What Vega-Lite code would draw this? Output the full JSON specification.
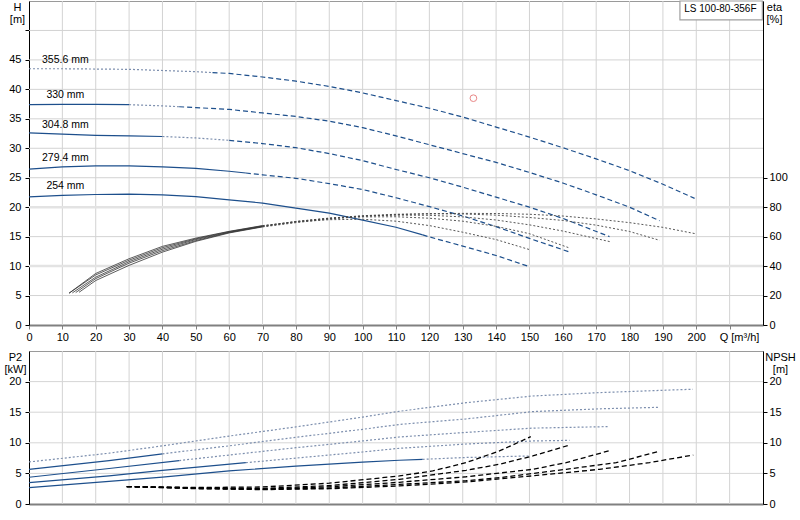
{
  "$schema": "https://vega.github.io/schema/vega-lite/v6.json",
  "padding": {"left": 3, "top": -1, "right": 0, "bottom": 0},
  "spacing": 26,
  "bounds": "flush",
  "config": {
    "font": "Liberation Sans",
    "view": {"stroke": "#9a9a9a"},
    "axis": {
      "labelFontSize": 11,
      "labelColor": "#000",
      "titleFontSize": 11,
      "titleFontWeight": "normal",
      "titleColor": "#000",
      "tickSize": 4,
      "grid": false,
      "labelFlush": false,
      "labelOverlap": false
    }
  },
  "datasets": {
    "qgrid": [
      {"Q": 10}, {"Q": 20}, {"Q": 30}, {"Q": 40}, {"Q": 50}, {"Q": 60}, {"Q": 70}, {"Q": 80}, {"Q": 90}, {"Q": 100}, {"Q": 110},
      {"Q": 120}, {"Q": 130}, {"Q": 140}, {"Q": 150}, {"Q": 160}, {"Q": 170}, {"Q": 180}, {"Q": 190}, {"Q": 200}, {"Q": 210}
    ],
    "hgrid": [
      {"H": 5}, {"H": 10}, {"H": 15}, {"H": 20}, {"H": 25}, {"H": 30}, {"H": 35}, {"H": 40}, {"H": 45}, {"H": 50}
    ],
    "pgrid": [
      {"P2": 5}, {"P2": 10}, {"P2": 15}, {"P2": 20}
    ],
    "head": [
      {"D": "355.6 mm", "seg": "dotted", "Q": 0, "H": 43.5},
      {"D": "355.6 mm", "seg": "dotted", "Q": 10, "H": 43.5},
      {"D": "355.6 mm", "seg": "dotted", "Q": 20, "H": 43.45},
      {"D": "355.6 mm", "seg": "dotted", "Q": 30, "H": 43.4},
      {"D": "355.6 mm", "seg": "dotted", "Q": 40, "H": 43.2},
      {"D": "355.6 mm", "seg": "dotted", "Q": 50, "H": 43.0},
      {"D": "355.6 mm", "seg": "dotted", "Q": 55, "H": 42.85},
      {"D": "355.6 mm", "seg": "dashed", "Q": 55, "H": 42.85},
      {"D": "355.6 mm", "seg": "dashed", "Q": 60, "H": 42.7},
      {"D": "355.6 mm", "seg": "dashed", "Q": 70, "H": 42.1},
      {"D": "355.6 mm", "seg": "dashed", "Q": 80, "H": 41.4},
      {"D": "355.6 mm", "seg": "dashed", "Q": 90, "H": 40.5},
      {"D": "355.6 mm", "seg": "dashed", "Q": 100, "H": 39.4},
      {"D": "355.6 mm", "seg": "dashed", "Q": 110, "H": 38.1},
      {"D": "355.6 mm", "seg": "dashed", "Q": 120, "H": 36.8},
      {"D": "355.6 mm", "seg": "dashed", "Q": 130, "H": 35.3},
      {"D": "355.6 mm", "seg": "dashed", "Q": 140, "H": 33.6},
      {"D": "355.6 mm", "seg": "dashed", "Q": 150, "H": 31.9},
      {"D": "355.6 mm", "seg": "dashed", "Q": 160, "H": 30.1},
      {"D": "355.6 mm", "seg": "dashed", "Q": 170, "H": 28.2},
      {"D": "355.6 mm", "seg": "dashed", "Q": 180, "H": 26.2},
      {"D": "355.6 mm", "seg": "dashed", "Q": 190, "H": 23.9},
      {"D": "355.6 mm", "seg": "dashed", "Q": 199.5, "H": 21.5},
      {"D": "330 mm", "seg": "solid", "Q": 0, "H": 37.4},
      {"D": "330 mm", "seg": "solid", "Q": 10, "H": 37.45},
      {"D": "330 mm", "seg": "solid", "Q": 20, "H": 37.45},
      {"D": "330 mm", "seg": "solid", "Q": 30, "H": 37.4},
      {"D": "330 mm", "seg": "dotted", "Q": 30, "H": 37.4},
      {"D": "330 mm", "seg": "dotted", "Q": 40, "H": 37.2},
      {"D": "330 mm", "seg": "dotted", "Q": 45, "H": 37.05},
      {"D": "330 mm", "seg": "dashed", "Q": 45, "H": 37.05},
      {"D": "330 mm", "seg": "dashed", "Q": 50, "H": 36.9},
      {"D": "330 mm", "seg": "dashed", "Q": 60, "H": 36.6},
      {"D": "330 mm", "seg": "dashed", "Q": 70, "H": 36.0},
      {"D": "330 mm", "seg": "dashed", "Q": 80, "H": 35.4},
      {"D": "330 mm", "seg": "dashed", "Q": 90, "H": 34.6},
      {"D": "330 mm", "seg": "dashed", "Q": 100, "H": 33.5},
      {"D": "330 mm", "seg": "dashed", "Q": 110, "H": 32.1},
      {"D": "330 mm", "seg": "dashed", "Q": 120, "H": 30.6},
      {"D": "330 mm", "seg": "dashed", "Q": 130, "H": 29.1},
      {"D": "330 mm", "seg": "dashed", "Q": 140, "H": 27.6},
      {"D": "330 mm", "seg": "dashed", "Q": 150, "H": 25.9},
      {"D": "330 mm", "seg": "dashed", "Q": 160, "H": 24.1},
      {"D": "330 mm", "seg": "dashed", "Q": 170, "H": 22.1},
      {"D": "330 mm", "seg": "dashed", "Q": 180, "H": 20.0},
      {"D": "330 mm", "seg": "dashed", "Q": 189, "H": 17.7},
      {"D": "304.8 mm", "seg": "solid", "Q": 0, "H": 32.6},
      {"D": "304.8 mm", "seg": "solid", "Q": 10, "H": 32.4},
      {"D": "304.8 mm", "seg": "solid", "Q": 20, "H": 32.2},
      {"D": "304.8 mm", "seg": "solid", "Q": 30, "H": 32.1},
      {"D": "304.8 mm", "seg": "solid", "Q": 40, "H": 32.0},
      {"D": "304.8 mm", "seg": "dotted", "Q": 40, "H": 32.0},
      {"D": "304.8 mm", "seg": "dotted", "Q": 50, "H": 31.75},
      {"D": "304.8 mm", "seg": "dotted", "Q": 60, "H": 31.35},
      {"D": "304.8 mm", "seg": "dashed", "Q": 60, "H": 31.35},
      {"D": "304.8 mm", "seg": "dashed", "Q": 70, "H": 30.8},
      {"D": "304.8 mm", "seg": "dashed", "Q": 80, "H": 30.1},
      {"D": "304.8 mm", "seg": "dashed", "Q": 90, "H": 29.1},
      {"D": "304.8 mm", "seg": "dashed", "Q": 100, "H": 27.9},
      {"D": "304.8 mm", "seg": "dashed", "Q": 110, "H": 26.4},
      {"D": "304.8 mm", "seg": "dashed", "Q": 120, "H": 25.0},
      {"D": "304.8 mm", "seg": "dashed", "Q": 130, "H": 23.4},
      {"D": "304.8 mm", "seg": "dashed", "Q": 140, "H": 21.7},
      {"D": "304.8 mm", "seg": "dashed", "Q": 150, "H": 20.0},
      {"D": "304.8 mm", "seg": "dashed", "Q": 160, "H": 18.1},
      {"D": "304.8 mm", "seg": "dashed", "Q": 174, "H": 15.0},
      {"D": "279.4 mm", "seg": "solid", "Q": 0, "H": 26.45},
      {"D": "279.4 mm", "seg": "solid", "Q": 10, "H": 26.85},
      {"D": "279.4 mm", "seg": "solid", "Q": 20, "H": 27.0},
      {"D": "279.4 mm", "seg": "solid", "Q": 30, "H": 27.0},
      {"D": "279.4 mm", "seg": "solid", "Q": 40, "H": 26.85},
      {"D": "279.4 mm", "seg": "solid", "Q": 50, "H": 26.6},
      {"D": "279.4 mm", "seg": "solid", "Q": 60, "H": 26.1},
      {"D": "279.4 mm", "seg": "solid", "Q": 65, "H": 25.8},
      {"D": "279.4 mm", "seg": "dashed", "Q": 65, "H": 25.8},
      {"D": "279.4 mm", "seg": "dashed", "Q": 70, "H": 25.5},
      {"D": "279.4 mm", "seg": "dashed", "Q": 80, "H": 24.9},
      {"D": "279.4 mm", "seg": "dashed", "Q": 90, "H": 24.0},
      {"D": "279.4 mm", "seg": "dashed", "Q": 100, "H": 23.0},
      {"D": "279.4 mm", "seg": "dashed", "Q": 110, "H": 21.6},
      {"D": "279.4 mm", "seg": "dashed", "Q": 120, "H": 20.1},
      {"D": "279.4 mm", "seg": "dashed", "Q": 130, "H": 18.5},
      {"D": "279.4 mm", "seg": "dashed", "Q": 140, "H": 16.7},
      {"D": "279.4 mm", "seg": "dashed", "Q": 150, "H": 14.7},
      {"D": "279.4 mm", "seg": "dashed", "Q": 162, "H": 12.4},
      {"D": "254 mm", "seg": "solid", "Q": 0, "H": 21.75},
      {"D": "254 mm", "seg": "solid", "Q": 10, "H": 22.0},
      {"D": "254 mm", "seg": "solid", "Q": 20, "H": 22.15},
      {"D": "254 mm", "seg": "solid", "Q": 30, "H": 22.2},
      {"D": "254 mm", "seg": "solid", "Q": 40, "H": 22.1},
      {"D": "254 mm", "seg": "solid", "Q": 50, "H": 21.8},
      {"D": "254 mm", "seg": "solid", "Q": 60, "H": 21.25},
      {"D": "254 mm", "seg": "solid", "Q": 70, "H": 20.7},
      {"D": "254 mm", "seg": "solid", "Q": 80, "H": 19.85},
      {"D": "254 mm", "seg": "solid", "Q": 90, "H": 19.0},
      {"D": "254 mm", "seg": "solid", "Q": 100, "H": 17.8},
      {"D": "254 mm", "seg": "solid", "Q": 110, "H": 16.6},
      {"D": "254 mm", "seg": "solid", "Q": 118, "H": 15.3},
      {"D": "254 mm", "seg": "dashed", "Q": 118, "H": 15.3},
      {"D": "254 mm", "seg": "dashed", "Q": 120, "H": 14.95},
      {"D": "254 mm", "seg": "dashed", "Q": 130, "H": 13.4},
      {"D": "254 mm", "seg": "dashed", "Q": 140, "H": 11.8},
      {"D": "254 mm", "seg": "dashed", "Q": 150, "H": 9.9}
    ],
    "eta": [
      {"D": "254 mm", "Q": 12, "eta": 21.6}, {"D": "254 mm", "Q": 20, "eta": 35}, {"D": "254 mm", "Q": 30, "eta": 45},
      {"D": "254 mm", "Q": 40, "eta": 53.4}, {"D": "254 mm", "Q": 50, "eta": 59}, {"D": "254 mm", "Q": 60, "eta": 63.6},
      {"D": "254 mm", "Q": 70, "eta": 67.5}, {"D": "254 mm", "Q": 80, "eta": 70}, {"D": "254 mm", "Q": 90, "eta": 71.5},
      {"D": "254 mm", "Q": 100, "eta": 71.8}, {"D": "254 mm", "Q": 110, "eta": 70.5}, {"D": "254 mm", "Q": 120, "eta": 67.5},
      {"D": "254 mm", "Q": 130, "eta": 63}, {"D": "254 mm", "Q": 140, "eta": 58}, {"D": "254 mm", "Q": 150, "eta": 51.2},
      {"D": "279.4 mm", "Q": 12, "eta": 21.6}, {"D": "279.4 mm", "Q": 20, "eta": 34}, {"D": "279.4 mm", "Q": 30, "eta": 44},
      {"D": "279.4 mm", "Q": 40, "eta": 52.5}, {"D": "279.4 mm", "Q": 50, "eta": 58.5}, {"D": "279.4 mm", "Q": 60, "eta": 63.4},
      {"D": "279.4 mm", "Q": 70, "eta": 67.3}, {"D": "279.4 mm", "Q": 80, "eta": 70.3}, {"D": "279.4 mm", "Q": 90, "eta": 72.3},
      {"D": "279.4 mm", "Q": 100, "eta": 73.4}, {"D": "279.4 mm", "Q": 110, "eta": 73.5}, {"D": "279.4 mm", "Q": 120, "eta": 72.5},
      {"D": "279.4 mm", "Q": 130, "eta": 70.5}, {"D": "279.4 mm", "Q": 140, "eta": 67}, {"D": "279.4 mm", "Q": 150, "eta": 62},
      {"D": "279.4 mm", "Q": 162, "eta": 52.3},
      {"D": "304.8 mm", "Q": 13, "eta": 21.8}, {"D": "304.8 mm", "Q": 20, "eta": 32.5}, {"D": "304.8 mm", "Q": 30, "eta": 43},
      {"D": "304.8 mm", "Q": 40, "eta": 51.5}, {"D": "304.8 mm", "Q": 50, "eta": 58}, {"D": "304.8 mm", "Q": 60, "eta": 63},
      {"D": "304.8 mm", "Q": 70, "eta": 67}, {"D": "304.8 mm", "Q": 80, "eta": 70.3}, {"D": "304.8 mm", "Q": 90, "eta": 72.6},
      {"D": "304.8 mm", "Q": 100, "eta": 74}, {"D": "304.8 mm", "Q": 110, "eta": 74.6}, {"D": "304.8 mm", "Q": 120, "eta": 74.5},
      {"D": "304.8 mm", "Q": 130, "eta": 73.4}, {"D": "304.8 mm", "Q": 140, "eta": 71.3}, {"D": "304.8 mm", "Q": 150, "eta": 68},
      {"D": "304.8 mm", "Q": 160, "eta": 63.8}, {"D": "304.8 mm", "Q": 174.5, "eta": 56.4},
      {"D": "330 mm", "Q": 14, "eta": 22}, {"D": "330 mm", "Q": 20, "eta": 31.5}, {"D": "330 mm", "Q": 30, "eta": 42},
      {"D": "330 mm", "Q": 40, "eta": 50.5}, {"D": "330 mm", "Q": 50, "eta": 57.3}, {"D": "330 mm", "Q": 60, "eta": 62.8},
      {"D": "330 mm", "Q": 70, "eta": 66.8}, {"D": "330 mm", "Q": 80, "eta": 70}, {"D": "330 mm", "Q": 90, "eta": 72.5},
      {"D": "330 mm", "Q": 100, "eta": 74.2}, {"D": "330 mm", "Q": 110, "eta": 75.2}, {"D": "330 mm", "Q": 120, "eta": 75.6},
      {"D": "330 mm", "Q": 130, "eta": 75.4}, {"D": "330 mm", "Q": 140, "eta": 74.6}, {"D": "330 mm", "Q": 150, "eta": 73},
      {"D": "330 mm", "Q": 160, "eta": 71}, {"D": "330 mm", "Q": 170, "eta": 67.8}, {"D": "330 mm", "Q": 180, "eta": 63.5},
      {"D": "330 mm", "Q": 189, "eta": 57.5},
      {"D": "355.6 mm", "Q": 15, "eta": 22.2}, {"D": "355.6 mm", "Q": 20, "eta": 30.2}, {"D": "355.6 mm", "Q": 30, "eta": 40.5},
      {"D": "355.6 mm", "Q": 40, "eta": 49.5}, {"D": "355.6 mm", "Q": 50, "eta": 56.8}, {"D": "355.6 mm", "Q": 60, "eta": 62.5},
      {"D": "355.6 mm", "Q": 70, "eta": 66.6}, {"D": "355.6 mm", "Q": 80, "eta": 69.5}, {"D": "355.6 mm", "Q": 90, "eta": 72},
      {"D": "355.6 mm", "Q": 100, "eta": 73.8}, {"D": "355.6 mm", "Q": 110, "eta": 74.9}, {"D": "355.6 mm", "Q": 120, "eta": 75.5},
      {"D": "355.6 mm", "Q": 130, "eta": 75.8}, {"D": "355.6 mm", "Q": 140, "eta": 75.7}, {"D": "355.6 mm", "Q": 150, "eta": 75.2},
      {"D": "355.6 mm", "Q": 160, "eta": 74}, {"D": "355.6 mm", "Q": 170, "eta": 72}, {"D": "355.6 mm", "Q": 180, "eta": 69.5},
      {"D": "355.6 mm", "Q": 190, "eta": 66.3}, {"D": "355.6 mm", "Q": 199.5, "eta": 62.1}
    ],
    "p2": [
      {"D": "355.6 mm", "seg": "dotted", "Q": 0, "P2": 6.87}, {"D": "355.6 mm", "seg": "dotted", "Q": 24, "P2": 8.3},
      {"D": "355.6 mm", "seg": "dotted", "Q": 40, "P2": 9.5}, {"D": "355.6 mm", "seg": "dotted", "Q": 60, "P2": 11.1},
      {"D": "355.6 mm", "seg": "dotted", "Q": 80, "P2": 12.6}, {"D": "355.6 mm", "seg": "dotted", "Q": 100, "P2": 14.2},
      {"D": "355.6 mm", "seg": "dotted", "Q": 111, "P2": 15.15}, {"D": "355.6 mm", "seg": "dotted", "Q": 131, "P2": 16.55},
      {"D": "355.6 mm", "seg": "dotted", "Q": 151, "P2": 17.65}, {"D": "355.6 mm", "seg": "dotted", "Q": 171, "P2": 18.2},
      {"D": "355.6 mm", "seg": "dotted", "Q": 191, "P2": 18.6}, {"D": "355.6 mm", "seg": "dotted", "Q": 199, "P2": 18.75},
      {"D": "330 mm", "seg": "solid", "Q": 0, "P2": 5.67}, {"D": "330 mm", "seg": "solid", "Q": 24, "P2": 7.1},
      {"D": "330 mm", "seg": "solid", "Q": 40, "P2": 8.2}, {"D": "330 mm", "seg": "dotted", "Q": 40, "P2": 8.2},
      {"D": "330 mm", "seg": "dotted", "Q": 60, "P2": 9.5}, {"D": "330 mm", "seg": "dotted", "Q": 80, "P2": 10.9},
      {"D": "330 mm", "seg": "dotted", "Q": 100, "P2": 12.2}, {"D": "330 mm", "seg": "dotted", "Q": 111, "P2": 13.0},
      {"D": "330 mm", "seg": "dotted", "Q": 131, "P2": 13.9}, {"D": "330 mm", "seg": "dotted", "Q": 151, "P2": 15.1},
      {"D": "330 mm", "seg": "dotted", "Q": 171, "P2": 15.55}, {"D": "330 mm", "seg": "dotted", "Q": 189, "P2": 15.8},
      {"D": "304.8 mm", "seg": "solid", "Q": 0, "P2": 4.37}, {"D": "304.8 mm", "seg": "solid", "Q": 24, "P2": 5.8},
      {"D": "304.8 mm", "seg": "solid", "Q": 45, "P2": 7.1}, {"D": "304.8 mm", "seg": "dotted", "Q": 45, "P2": 7.1},
      {"D": "304.8 mm", "seg": "dotted", "Q": 60, "P2": 8.0}, {"D": "304.8 mm", "seg": "dotted", "Q": 80, "P2": 9.2},
      {"D": "304.8 mm", "seg": "dotted", "Q": 100, "P2": 10.3}, {"D": "304.8 mm", "seg": "dotted", "Q": 111, "P2": 10.95},
      {"D": "304.8 mm", "seg": "dotted", "Q": 131, "P2": 11.7}, {"D": "304.8 mm", "seg": "dotted", "Q": 151, "P2": 12.4},
      {"D": "304.8 mm", "seg": "dotted", "Q": 174, "P2": 12.65},
      {"D": "279.4 mm", "seg": "solid", "Q": 0, "P2": 3.48}, {"D": "279.4 mm", "seg": "solid", "Q": 24, "P2": 4.6},
      {"D": "279.4 mm", "seg": "solid", "Q": 40, "P2": 5.5}, {"D": "279.4 mm", "seg": "solid", "Q": 65, "P2": 6.75},
      {"D": "279.4 mm", "seg": "dotted", "Q": 65, "P2": 6.75}, {"D": "279.4 mm", "seg": "dotted", "Q": 80, "P2": 7.5},
      {"D": "279.4 mm", "seg": "dotted", "Q": 100, "P2": 8.5}, {"D": "279.4 mm", "seg": "dotted", "Q": 111, "P2": 9.1},
      {"D": "279.4 mm", "seg": "dotted", "Q": 131, "P2": 9.8}, {"D": "279.4 mm", "seg": "dotted", "Q": 151, "P2": 10.3},
      {"D": "279.4 mm", "seg": "dotted", "Q": 162, "P2": 10.4},
      {"D": "254 mm", "seg": "solid", "Q": 0, "P2": 2.67}, {"D": "254 mm", "seg": "solid", "Q": 24, "P2": 3.7},
      {"D": "254 mm", "seg": "solid", "Q": 40, "P2": 4.4}, {"D": "254 mm", "seg": "solid", "Q": 60, "P2": 5.4},
      {"D": "254 mm", "seg": "solid", "Q": 80, "P2": 6.2}, {"D": "254 mm", "seg": "solid", "Q": 100, "P2": 6.85},
      {"D": "254 mm", "seg": "solid", "Q": 111, "P2": 7.15}, {"D": "254 mm", "seg": "solid", "Q": 118, "P2": 7.3},
      {"D": "254 mm", "seg": "dotted", "Q": 118, "P2": 7.3}, {"D": "254 mm", "seg": "dotted", "Q": 131, "P2": 7.6},
      {"D": "254 mm", "seg": "dotted", "Q": 150, "P2": 7.85}
    ],
    "npsh": [
      {"D": "254 mm", "Q": 29.3, "NPSH": 2.85}, {"D": "254 mm", "Q": 50, "NPSH": 2.7}, {"D": "254 mm", "Q": 70, "NPSH": 2.78},
      {"D": "254 mm", "Q": 90, "NPSH": 3.4}, {"D": "254 mm", "Q": 111, "NPSH": 4.58}, {"D": "254 mm", "Q": 121, "NPSH": 5.4},
      {"D": "254 mm", "Q": 131, "NPSH": 6.76}, {"D": "254 mm", "Q": 141, "NPSH": 8.67}, {"D": "254 mm", "Q": 150.4, "NPSH": 11.0},
      {"D": "279.4 mm", "Q": 29.3, "NPSH": 2.85}, {"D": "279.4 mm", "Q": 50, "NPSH": 2.65}, {"D": "279.4 mm", "Q": 70, "NPSH": 2.55},
      {"D": "279.4 mm", "Q": 90, "NPSH": 3.0}, {"D": "279.4 mm", "Q": 111, "NPSH": 4.03}, {"D": "279.4 mm", "Q": 131, "NPSH": 5.5},
      {"D": "279.4 mm", "Q": 141, "NPSH": 6.5}, {"D": "279.4 mm", "Q": 151, "NPSH": 7.85}, {"D": "279.4 mm", "Q": 161.8, "NPSH": 9.6},
      {"D": "304.8 mm", "Q": 29.3, "NPSH": 2.85}, {"D": "304.8 mm", "Q": 50, "NPSH": 2.6}, {"D": "304.8 mm", "Q": 70, "NPSH": 2.45},
      {"D": "304.8 mm", "Q": 90, "NPSH": 2.8}, {"D": "304.8 mm", "Q": 111, "NPSH": 3.55}, {"D": "304.8 mm", "Q": 131, "NPSH": 4.45},
      {"D": "304.8 mm", "Q": 151, "NPSH": 5.67}, {"D": "304.8 mm", "Q": 161, "NPSH": 6.76}, {"D": "304.8 mm", "Q": 174.4, "NPSH": 8.78},
      {"D": "330 mm", "Q": 29.3, "NPSH": 2.85}, {"D": "330 mm", "Q": 50, "NPSH": 2.55}, {"D": "330 mm", "Q": 70, "NPSH": 2.4},
      {"D": "330 mm", "Q": 90, "NPSH": 2.6}, {"D": "330 mm", "Q": 111, "NPSH": 3.2}, {"D": "330 mm", "Q": 131, "NPSH": 3.8},
      {"D": "330 mm", "Q": 141, "NPSH": 4.3}, {"D": "330 mm", "Q": 161, "NPSH": 5.67}, {"D": "330 mm", "Q": 176, "NPSH": 6.76},
      {"D": "330 mm", "Q": 188.6, "NPSH": 8.56},
      {"D": "355.6 mm", "Q": 29.3, "NPSH": 2.85}, {"D": "355.6 mm", "Q": 50, "NPSH": 2.5}, {"D": "355.6 mm", "Q": 70, "NPSH": 2.35},
      {"D": "355.6 mm", "Q": 90, "NPSH": 2.5}, {"D": "355.6 mm", "Q": 111, "NPSH": 2.95}, {"D": "355.6 mm", "Q": 131, "NPSH": 3.6},
      {"D": "355.6 mm", "Q": 151, "NPSH": 4.6}, {"D": "355.6 mm", "Q": 171, "NPSH": 5.67}, {"D": "355.6 mm", "Q": 186, "NPSH": 6.76},
      {"D": "355.6 mm", "Q": 199.1, "NPSH": 8.0}
    ],
    "duty": [{"Q": 133.2, "H": 38.5}]
  },
  "vconcat": [
    {
      "width": 734,
      "height": 324,
      "resolve": {"scale": {"y": "independent"}},
      "layer": [
        {
          "data": {"name": "qgrid"},
          "mark": {"type": "rule", "color": "#d3d3d3", "strokeWidth": 1},
          "encoding": {
            "x": {
              "field": "Q", "type": "quantitative",
              "scale": {"domain": [0, 220], "nice": false},
              "axis": {
                "values": [0, 10, 20, 30, 40, 50, 60, 70, 80, 90, 100, 110, 120, 130, 140, 150, 160, 170, 180, 190, 200, 210],
                "labelExpr": "datum.value > 200 ? '' : datum.label",
                "labelOverlap": false,
                "title": "Q [m³/h]",
                "titleX": 710, "titleY": 6, "titleBaseline": "top", "titleAlign": "center",
                "domainColor": "#808080", "domainWidth": 2, "tickColor": "#808080", "labelPadding": 2, "grid": false
              }
            }
          }
        },
        {
          "data": {"name": "hgrid"},
          "mark": {"type": "rule"},
          "encoding": {
            "y": {
              "field": "H", "type": "quantitative",
              "scale": {"domain": [0, 55], "nice": false},
              "axis": {
                "orient": "left",
                "values": [0, 5, 10, 15, 20, 25, 30, 35, 40, 45, 50],
                "labelExpr": "datum.value > 45 ? '' : datum.label",
                "title": ["H", "[m]"],
                "titleAngle": 0, "titleX": -12, "titleY": 0, "titleBaseline": "top", "titleAlign": "center", "titleLineHeight": 12,
                "domainColor": "#000", "tickColor": "#000", "labelPadding": 4, "grid": false
              }
            },
            "strokeWidth": {"condition": {"test": "datum.H == 10 || datum.H == 20", "value": 2.5}, "value": 1},
            "color": {"condition": {"test": "datum.H == 10 || datum.H == 20", "value": "#e3e3e3"}, "value": "#d3d3d3"}
          }
        },
        {
          "data": {"name": "head"},
          "transform": [{"filter": "datum.seg == 'solid'"}],
          "mark": {"type": "line", "color": "#1d4f8c", "strokeWidth": 1.2},
          "encoding": {
            "x": {
              "field": "Q", "type": "quantitative",
              "scale": {"domain": [0, 220], "nice": false},
              "axis": {
                "values": [0, 10, 20, 30, 40, 50, 60, 70, 80, 90, 100, 110, 120, 130, 140, 150, 160, 170, 180, 190, 200, 210],
                "labelExpr": "datum.value > 200 ? '' : datum.label",
                "labelOverlap": false,
                "title": "Q [m³/h]",
                "titleX": 710, "titleY": 6, "titleBaseline": "top", "titleAlign": "center",
                "domainColor": "#808080", "domainWidth": 2, "tickColor": "#808080", "labelPadding": 2, "grid": false
              }
            },
            "y": {"field": "H", "type": "quantitative", "scale": {"domain": [0, 55], "nice": false}, "axis": null},
            "detail": {"field": "D"}
          }
        },
        {
          "data": {"name": "head"},
          "transform": [{"filter": "datum.seg == 'dotted'"}],
          "mark": {"type": "line", "color": "#7d8fae", "strokeWidth": 1.2, "strokeDash": [2, 2]},
          "encoding": {
            "x": {
              "field": "Q", "type": "quantitative",
              "scale": {"domain": [0, 220], "nice": false},
              "axis": {
                "values": [0, 10, 20, 30, 40, 50, 60, 70, 80, 90, 100, 110, 120, 130, 140, 150, 160, 170, 180, 190, 200, 210],
                "labelExpr": "datum.value > 200 ? '' : datum.label",
                "labelOverlap": false,
                "title": "Q [m³/h]",
                "titleX": 710, "titleY": 6, "titleBaseline": "top", "titleAlign": "center",
                "domainColor": "#808080", "domainWidth": 2, "tickColor": "#808080", "labelPadding": 2, "grid": false
              }
            },
            "y": {"field": "H", "type": "quantitative", "scale": {"domain": [0, 55], "nice": false}, "axis": null},
            "detail": {"field": "D"}
          }
        },
        {
          "data": {"name": "head"},
          "transform": [{"filter": "datum.seg == 'dashed'"}],
          "mark": {"type": "line", "color": "#1d4f8c", "strokeWidth": 1.2, "strokeDash": [5, 3]},
          "encoding": {
            "x": {
              "field": "Q", "type": "quantitative",
              "scale": {"domain": [0, 220], "nice": false},
              "axis": {
                "values": [0, 10, 20, 30, 40, 50, 60, 70, 80, 90, 100, 110, 120, 130, 140, 150, 160, 170, 180, 190, 200, 210],
                "labelExpr": "datum.value > 200 ? '' : datum.label",
                "labelOverlap": false,
                "title": "Q [m³/h]",
                "titleX": 710, "titleY": 6, "titleBaseline": "top", "titleAlign": "center",
                "domainColor": "#808080", "domainWidth": 2, "tickColor": "#808080", "labelPadding": 2, "grid": false
              }
            },
            "y": {"field": "H", "type": "quantitative", "scale": {"domain": [0, 55], "nice": false}, "axis": null},
            "detail": {"field": "D"}
          }
        },
        {
          "data": {"name": "head"},
          "transform": [{"filter": "datum.Q == 10"}],
          "mark": {"type": "text", "dx": 3, "dy": -9, "fontSize": 10.5, "color": "#000"},
          "encoding": {
            "x": {
              "field": "Q", "type": "quantitative",
              "scale": {"domain": [0, 220], "nice": false},
              "axis": {
                "values": [0, 10, 20, 30, 40, 50, 60, 70, 80, 90, 100, 110, 120, 130, 140, 150, 160, 170, 180, 190, 200, 210],
                "labelExpr": "datum.value > 200 ? '' : datum.label",
                "labelOverlap": false,
                "title": "Q [m³/h]",
                "titleX": 710, "titleY": 6, "titleBaseline": "top", "titleAlign": "center",
                "domainColor": "#808080", "domainWidth": 2, "tickColor": "#808080", "labelPadding": 2, "grid": false
              }
            },
            "y": {"field": "H", "type": "quantitative", "scale": {"domain": [0, 55], "nice": false}, "axis": null},
            "text": {"field": "D"}
          }
        },
        {
          "data": {"name": "duty"},
          "mark": {"type": "point", "shape": "circle", "filled": false, "color": "#e05555", "size": 45, "strokeWidth": 1},
          "encoding": {
            "x": {
              "field": "Q", "type": "quantitative",
              "scale": {"domain": [0, 220], "nice": false},
              "axis": {
                "values": [0, 10, 20, 30, 40, 50, 60, 70, 80, 90, 100, 110, 120, 130, 140, 150, 160, 170, 180, 190, 200, 210],
                "labelExpr": "datum.value > 200 ? '' : datum.label",
                "labelOverlap": false,
                "title": "Q [m³/h]",
                "titleX": 710, "titleY": 6, "titleBaseline": "top", "titleAlign": "center",
                "domainColor": "#808080", "domainWidth": 2, "tickColor": "#808080", "labelPadding": 2, "grid": false
              }
            },
            "y": {"field": "H", "type": "quantitative", "scale": {"domain": [0, 55], "nice": false}, "axis": null}
          }
        },
        {
          "data": {"name": "eta"},
          "transform": [{"filter": "datum.Q <= 70"}],
          "mark": {"type": "line", "color": "#333333", "strokeWidth": 0.8},
          "encoding": {
            "x": {
              "field": "Q", "type": "quantitative",
              "scale": {"domain": [0, 220], "nice": false},
              "axis": {
                "values": [0, 10, 20, 30, 40, 50, 60, 70, 80, 90, 100, 110, 120, 130, 140, 150, 160, 170, 180, 190, 200, 210],
                "labelExpr": "datum.value > 200 ? '' : datum.label",
                "labelOverlap": false,
                "title": "Q [m³/h]",
                "titleX": 710, "titleY": 6, "titleBaseline": "top", "titleAlign": "center",
                "domainColor": "#808080", "domainWidth": 2, "tickColor": "#808080", "labelPadding": 2, "grid": false
              }
            },
            "y": {"field": "eta", "type": "quantitative", "scale": {"domain": [0, 220], "nice": false}, "axis": null},
            "detail": {"field": "D"}
          }
        },
        {
          "data": {"name": "eta"},
          "transform": [{"filter": "datum.Q >= 70"}],
          "mark": {"type": "line", "color": "#444444", "strokeWidth": 0.9, "strokeDash": [2, 2]},
          "encoding": {
            "x": {
              "field": "Q", "type": "quantitative",
              "scale": {"domain": [0, 220], "nice": false},
              "axis": {
                "values": [0, 10, 20, 30, 40, 50, 60, 70, 80, 90, 100, 110, 120, 130, 140, 150, 160, 170, 180, 190, 200, 210],
                "labelExpr": "datum.value > 200 ? '' : datum.label",
                "labelOverlap": false,
                "title": "Q [m³/h]",
                "titleX": 710, "titleY": 6, "titleBaseline": "top", "titleAlign": "center",
                "domainColor": "#808080", "domainWidth": 2, "tickColor": "#808080", "labelPadding": 2, "grid": false
              }
            },
            "y": {
              "field": "eta", "type": "quantitative",
              "scale": {"domain": [0, 220], "nice": false},
              "axis": {
                "orient": "right",
                "values": [0, 20, 40, 60, 80, 100],
                "grid": false,
                "title": ["eta", "[%]"],
                "titleAngle": 0, "titleX": 11, "titleY": 0, "titleBaseline": "top", "titleAlign": "center", "titleLineHeight": 12,
                "domainColor": "#000", "tickColor": "#000", "labelPadding": 2
              }
            },
            "detail": {"field": "D"}
          }
        },
        {
          "data": {"values": [{"label": "LS 100-80-356F"}]},
          "mark": {"type": "rect", "fill": "white", "stroke": "#a0a0a0", "strokeWidth": 1.2},
          "encoding": {
            "x": {
              "datum": 195.1, "type": "quantitative",
              "scale": {"domain": [0, 220], "nice": false},
              "axis": {
                "values": [0, 10, 20, 30, 40, 50, 60, 70, 80, 90, 100, 110, 120, 130, 140, 150, 160, 170, 180, 190, 200, 210],
                "labelExpr": "datum.value > 200 ? '' : datum.label",
                "labelOverlap": false,
                "title": "Q [m³/h]",
                "titleX": 710, "titleY": 6, "titleBaseline": "top", "titleAlign": "center",
                "domainColor": "#808080", "domainWidth": 2, "tickColor": "#808080", "labelPadding": 2, "grid": false
              }
            },
            "x2": {"datum": 219.8},
            "y": {"datum": 55, "type": "quantitative", "scale": {"domain": [0, 55], "nice": false}, "axis": null},
            "y2": {"datum": 51.8}
          }
        },
        {
          "data": {"values": [{"label": "LS 100-80-356F"}]},
          "mark": {"type": "text", "align": "left", "baseline": "middle", "fontSize": 10, "color": "#000"},
          "encoding": {
            "x": {
              "datum": 196.4, "type": "quantitative",
              "scale": {"domain": [0, 220], "nice": false},
              "axis": {
                "values": [0, 10, 20, 30, 40, 50, 60, 70, 80, 90, 100, 110, 120, 130, 140, 150, 160, 170, 180, 190, 200, 210],
                "labelExpr": "datum.value > 200 ? '' : datum.label",
                "labelOverlap": false,
                "title": "Q [m³/h]",
                "titleX": 710, "titleY": 6, "titleBaseline": "top", "titleAlign": "center",
                "domainColor": "#808080", "domainWidth": 2, "tickColor": "#808080", "labelPadding": 2, "grid": false
              }
            },
            "y": {"datum": 53.6, "type": "quantitative", "scale": {"domain": [0, 55], "nice": false}, "axis": null},
            "text": {"field": "label"}
          }
        }
      ]
    },
    {
      "width": 734,
      "height": 153,
      "resolve": {"scale": {"y": "independent"}},
      "encoding": {
        "x": {
          "field": "Q", "type": "quantitative",
          "scale": {"domain": [0, 220], "nice": false},
          "axis": {
            "values": [0, 10, 20, 30, 40, 50, 60, 70, 80, 90, 100, 110, 120, 130, 140, 150, 160, 170, 180, 190, 200, 210],
            "labels": false,
            "ticks": false,
            "title": null,
            "domainColor": "#808080",
            "domainWidth": 2,
            "grid": false
          }
        }
      },
      "layer": [
        {
          "data": {"name": "qgrid"},
          "mark": {"type": "rule", "color": "#d3d3d3", "strokeWidth": 1},
          "encoding": {}
        },
        {
          "data": {"name": "pgrid"},
          "mark": {"type": "rule", "color": "#d6d6d6", "strokeWidth": 1},
          "encoding": {
            "x": {"value": 0},
            "x2": {"value": "width"},
            "y": {
              "field": "P2", "type": "quantitative",
              "scale": {"domain": [0, 25], "nice": false},
              "axis": {
                "orient": "left",
                "values": [0, 5, 10, 15, 20],
                "title": ["P2", "[kW]"],
                "titleAngle": 0, "titleX": -14, "titleY": 0, "titleBaseline": "top", "titleAlign": "center", "titleLineHeight": 12,
                "domainColor": "#000", "tickColor": "#000", "labelPadding": 4, "grid": false
              }
            }
          }
        },
        {
          "data": {"name": "p2"},
          "transform": [{"filter": "datum.seg == 'solid'"}],
          "mark": {"type": "line", "color": "#1d4f8c", "strokeWidth": 1.2},
          "encoding": {
            "y": {"field": "P2", "type": "quantitative", "scale": {"domain": [0, 25], "nice": false}, "axis": null},
            "detail": {"field": "D"}
          }
        },
        {
          "data": {"name": "p2"},
          "transform": [{"filter": "datum.seg == 'dotted'"}],
          "mark": {"type": "line", "color": "#7d8fae", "strokeWidth": 1.2, "strokeDash": [2, 2]},
          "encoding": {
            "y": {"field": "P2", "type": "quantitative", "scale": {"domain": [0, 25], "nice": false}, "axis": null},
            "detail": {"field": "D"}
          }
        },
        {
          "data": {"name": "npsh"},
          "mark": {"type": "line", "color": "#000", "strokeWidth": 1.3, "strokeDash": [5, 3]},
          "encoding": {
            "y": {
              "field": "NPSH", "type": "quantitative",
              "scale": {"domain": [0, 25], "nice": false},
              "axis": {
                "orient": "right",
                "values": [0, 5, 10, 15, 20],
                "grid": false,
                "title": ["NPSH", "[m]"],
                "titleAngle": 0, "titleX": 17, "titleY": 0, "titleBaseline": "top", "titleAlign": "center", "titleLineHeight": 12,
                "domainColor": "#000", "tickColor": "#000", "labelPadding": 2
              }
            },
            "detail": {"field": "D"}
          }
        }
      ]
    }
  ]
}
